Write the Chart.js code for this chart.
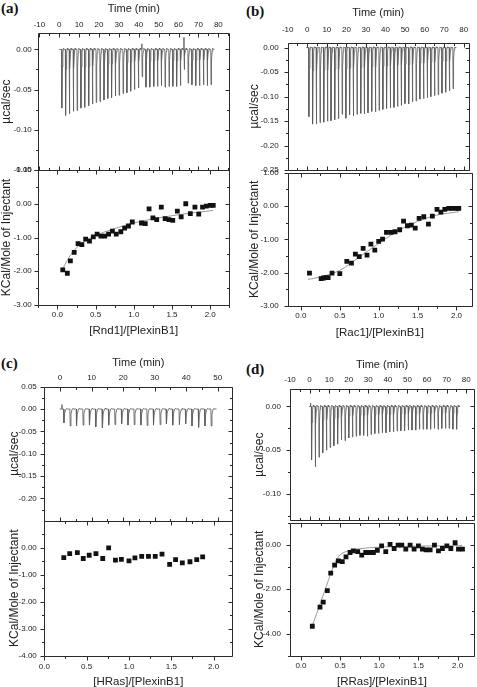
<!DOCTYPE html>
<html>
<head>
<meta charset="utf-8">
<script src="https://cdn.jsdelivr.net/npm/chart.js@4.4.1/dist/chart.umd.min.js"></script>
<style>
  html, body { margin: 0; padding: 0; background: #fff; }
  body { position: relative; width: 477px; height: 687px; overflow: hidden; }
  canvas { position: absolute; }
  .tag { position: absolute; font: bold 15px "Liberation Serif", "Times New Roman", serif; color: #111; line-height: 1; }
</style>
</head>
<body>
<div class="tag" style="left:1px;top:1px">(a)</div>
<div class="tag" style="left:246px;top:4px">(b)</div>
<div class="tag" style="left:1px;top:356px">(c)</div>
<div class="tag" style="left:246px;top:362px">(d)</div>
<script>
// ---- values ----
const timeTicks = [-10, 0, 10, 20, 30, 40, 50, 60, 70, 80];
const timeTicksC = [0, 10, 20, 30, 40, 50];
const ratioTicks = [0, 0.5, 1, 1.5, 2];

// (a) Rnd1
const aInjT = [1.2,3.1,5.0,7.0,8.9,10.8,12.7,14.7,16.6,18.5,20.4,22.4,24.3,26.2,28.1,30.0,32.0,33.9,35.8,37.7,
               39.7,41.6,43.5,45.4,47.4,49.3,51.2,53.1,55.1,57.0,58.9,60.8,62.8,64.7,66.6,68.5,70.4,72.4,74.3,76.2];
const aPeak = [-0.073,-0.082,-0.080,-0.077,-0.076,-0.073,-0.072,-0.070,-0.068,-0.066,-0.065,-0.063,-0.061,-0.060,-0.058,-0.057,-0.055,-0.054,-0.052,-0.050,
               -0.048,-0.034,-0.047,-0.047,-0.046,-0.046,-0.045,-0.047,-0.046,-0.046,-0.046,-0.045,-0.025,-0.042,-0.044,-0.045,-0.045,-0.044,-0.045,-0.044];
const aBlip = [[41.5, 0.007], [62.7, 0.015]];
const aRatio = [0.07,0.13,0.17,0.22,0.27,0.32,0.37,0.42,0.47,0.52,0.57,0.62,0.67,0.72,0.77,0.83,0.88,0.93,0.98,1.10,
                1.15,1.20,1.25,1.30,1.36,1.41,1.46,1.51,1.57,1.62,1.68,1.74,1.80,1.85,1.90,1.95,2.00,2.04];
const aHeat = [-1.96,-2.06,-1.69,-1.44,-1.18,-1.21,-1.05,-1.11,-0.98,-0.90,-0.96,-0.96,-0.90,-0.81,-0.90,-0.83,-0.72,-0.66,-0.54,-0.57,
               -0.59,-0.15,-0.42,-0.47,-0.10,-0.44,-0.47,-0.49,-0.22,-0.39,0.00,-0.29,-0.10,-0.31,-0.10,-0.07,-0.05,-0.05];
const aFitX = [0.07,0.10,0.15,0.20,0.25,0.30,0.40,0.50,0.60,0.80,1.00,1.20,1.40,1.60,1.80,2.04];
const aFitY = [-1.92,-1.80,-1.60,-1.43,-1.30,-1.20,-1.05,-0.94,-0.85,-0.70,-0.57,-0.47,-0.39,-0.32,-0.26,-0.20];

// (b) Rac1
const bInjT = [0.7,2.6,4.5,6.4,8.3,10.2,12.0,13.9,15.8,17.7,19.6,21.5,23.4,25.3,27.2,29.0,30.9,32.8,34.7,36.6,
               38.5,40.4,42.3,44.2,46.0,47.9,49.8,51.7,53.6,55.5,57.4,59.3,61.2,63.0,64.9,66.8,68.7,70.6,72.5,74.4];
const bPeak = [-0.141,-0.156,-0.156,-0.153,-0.152,-0.150,-0.149,-0.147,-0.145,-0.136,-0.144,-0.137,-0.139,-0.136,-0.134,-0.135,-0.133,-0.130,-0.131,-0.128,
               -0.126,-0.124,-0.123,-0.122,-0.120,-0.118,-0.114,-0.115,-0.111,-0.109,-0.105,-0.104,-0.102,-0.100,-0.098,-0.096,-0.093,-0.091,-0.088,-0.084];
const bBlip = [];
const bRatio = [0.11,0.26,0.29,0.32,0.35,0.40,0.50,0.59,0.65,0.70,0.75,0.80,0.85,0.90,0.95,1.00,1.05,1.10,1.16,1.21,
                1.27,1.32,1.37,1.42,1.47,1.52,1.58,1.64,1.69,1.75,1.80,1.85,1.90,1.95,2.00,2.03];
const bHeat = [-2.01,-2.18,-2.16,-2.15,-2.15,-2.01,-2.03,-1.66,-1.71,-1.44,-1.52,-1.27,-1.47,-1.14,-1.32,-1.06,-0.99,-0.79,-0.79,-0.77,
               -0.71,-0.45,-0.59,-0.57,-0.66,-0.37,-0.32,-0.54,-0.30,-0.10,-0.18,-0.10,-0.07,-0.07,-0.07,-0.07];
const bFitX = [0.09,0.25,0.50,0.75,1.00,1.25,1.50,1.75,2.03];
const bFitY = [-2.20,-2.13,-1.93,-1.53,-1.12,-0.74,-0.46,-0.27,-0.17];

// (c) HRas
const cInjT = [1.1,3.1,5.1,7.2,9.2,11.2,13.3,15.3,17.3,19.4,21.4,23.4,25.5,27.5,29.5,31.6,33.6,35.6,37.7,39.7,41.7,43.8,45.8,47.8];
const cPeak = [-0.031,-0.038,-0.038,-0.036,-0.036,-0.040,-0.042,-0.036,-0.035,-0.033,-0.036,-0.035,
               -0.036,-0.037,-0.036,-0.035,-0.033,-0.036,-0.035,-0.033,-0.038,-0.041,-0.038,-0.038];
const cBlip = [[0.6, 0.010]];
const cRatio = [0.23,0.30,0.39,0.46,0.53,0.61,0.69,0.76,0.84,0.91,1.00,1.07,1.15,1.23,1.31,1.39,1.48,1.55,1.63,1.72,1.80,1.87];
const cHeat = [-0.37,-0.22,-0.18,-0.40,-0.28,-0.22,-0.40,-0.01,-0.46,-0.43,-0.49,-0.38,-0.32,-0.32,-0.32,-0.24,-0.62,-0.44,-0.56,-0.52,-0.44,-0.34];

// (d) RRas
const dInjT = [0.9,2.8,4.7,6.6,8.5,10.4,12.3,14.2,16.1,18.0,19.9,21.8,23.7,25.6,27.5,29.4,31.3,33.2,35.1,37.0,
               38.9,40.8,42.7,44.6,46.5,48.4,50.3,52.2,54.1,56.0,57.9,59.8,61.7,63.6,65.5,67.4,69.3,71.2,73.1,75.0];
const dPeak = [-0.061,-0.069,-0.058,-0.053,-0.050,-0.047,-0.045,-0.043,-0.038,-0.039,-0.036,-0.035,-0.034,-0.033,-0.033,-0.034,-0.032,-0.031,-0.031,-0.030,
               -0.030,-0.029,-0.029,-0.028,-0.028,-0.028,-0.027,-0.027,-0.027,-0.026,-0.026,-0.026,-0.026,-0.025,-0.026,-0.025,-0.025,-0.025,-0.026,-0.026];
const dBlip = [[0.5, 0.004]];
const dRatio = [0.145,0.243,0.285,0.337,0.38,0.43,0.477,0.528,0.575,0.627,0.669,0.725,0.776,0.827,0.874,0.925,0.976,1.03,1.083,1.138,
                1.19,1.24,1.288,1.339,1.394,1.445,1.50,1.551,1.598,1.65,1.705,1.756,1.807,1.863,1.914,1.969,2.012,2.063];
const dHeat = [-3.67,-2.81,-2.58,-2.06,-1.27,-0.91,-0.72,-0.75,-0.54,-0.34,-0.27,-0.30,-0.46,-0.34,-0.34,-0.34,-0.24,-0.04,-0.30,0.03,
               -0.16,-0.01,-0.01,-0.19,-0.01,-0.19,-0.04,-0.19,-0.22,-0.22,-0.01,-0.27,-0.16,-0.04,-0.16,0.10,-0.19,-0.19];
const dFitX = [0.145,0.25,0.35,0.40,0.45,0.50,0.60,0.75,1.00,1.50,2.06];
const dFitY = [-3.65,-2.60,-1.60,-1.10,-0.70,-0.45,-0.27,-0.17,-0.10,-0.05,-0.03];

// ---- drawing ----
const FONT = "'Liberation Sans', Arial, Helvetica, sans-serif";
const INK = '#222';
const tickFont = { family: FONT, size: 8 };

// baseline with one needle per injection
function trace(times, peaks, blips) {
  const pts = [{ x: times[0] - 1.2, y: 0 }];
  times.forEach((t, i) => {
    const p = peaks[i];
    pts.push({ x: t, y: 0 }, { x: t + 0.12, y: p }, { x: t + 0.35, y: p * 0.3 },
             { x: t + 0.65, y: p * 0.06 }, { x: t + 0.95, y: 0.0015 }, { x: t + 1.25, y: 0 });
  });
  blips.forEach(([t, v]) => pts.push({ x: t - 0.05, y: 0 }, { x: t, y: v }, { x: t + 0.05, y: 0 }));
  pts.sort((a, b) => a.x - b.x);
  pts.push({ x: times[times.length - 1] + 1.8, y: 0 });
  return pts;
}
const pairs = (xs, ys) => xs.map((x, i) => ({ x: x, y: ys[i] }));

const framePlugin = {
  id: 'frame',
  afterDraw(chart, args, opt) {
    const { ctx, chartArea: a, scales } = chart;
    const marks = s => {
      const v = s.ticks.map(t => t.value);
      const out = v.map(x => [x, 4]);
      for (let i = 0; i < v.length - 1; i++) out.push([(v[i] + v[i + 1]) / 2, 2.5]);
      const d = (v[1] - v[0]) / 2;
      out.push([v[0] - d, 2.5], [v[v.length - 1] + d, 2.5]);
      const lo = Math.min(s.min, s.max), hi = Math.max(s.min, s.max);
      return out.filter(([x]) => x >= lo - 1e-9 && x <= hi + 1e-9);
    };
    const px = p => Math.round(p) + 0.5;
    const L = px(a.left), R = px(a.right), T = px(a.top), B = px(a.bottom);
    ctx.save();
    ctx.strokeStyle = '#2a2a2a';
    ctx.lineWidth = 1;
    ctx.beginPath();
    ctx.rect(L, T, R - L, B - T);
    const dir = opt.bottom === 'out' ? 1 : -1;
    marks(scales.x).forEach(([v, len]) => {
      const p = px(scales.x.getPixelForValue(v));
      ctx.moveTo(p, T); ctx.lineTo(p, T + len);
      ctx.moveTo(p, B); ctx.lineTo(p, B + dir * len);
    });
    marks(scales.y).forEach(([v, len]) => {
      const p = px(scales.y.getPixelForValue(v));
      ctx.moveTo(L, p); ctx.lineTo(L - len, p);
      ctx.moveTo(R, p); ctx.lineTo(R - len, p);
    });
    ctx.stroke();
    ctx.restore();
  }
};

function canvasAt(left, top, w, h) {
  const c = document.createElement('canvas');
  c.width = w; c.height = h;
  c.style.left = left + 'px'; c.style.top = top + 'px';
  c.style.width = w + 'px'; c.style.height = h + 'px';
  document.body.appendChild(c);
  return c;
}

function plot(c, o) {
  return new Chart(c, {
    type: 'line',
    data: { datasets: o.datasets },
    options: {
      responsive: false, animation: false, events: [],
      layout: { autoPadding: false, padding: o.pad },
      plugins: { legend: { display: false }, tooltip: { enabled: false }, frame: { bottom: o.bottomTicks } },
      scales: {
        x: {
          type: 'linear', position: o.xPos, min: o.xMin, max: o.xMax,
          grid: { display: false, drawTicks: false }, border: { display: false },
          afterBuildTicks: s => { s.ticks = o.xTicks.map(v => ({ value: v })); },
          afterFit: s => { s.height = o.xH; },
          ticks: { autoSkip: false, maxRotation: 0, padding: o.xPad, font: tickFont, color: INK, callback: o.xFmt },
          title: { display: true, text: o.xTitle, color: INK, font: { family: FONT, size: o.xTitleSize, lineHeight: 1 }, padding: o.xTitlePad }
        },
        y: {
          type: 'linear', min: o.yMin, max: o.yMax,
          grid: { display: false, drawTicks: false }, border: { display: false },
          afterBuildTicks: s => { s.ticks = o.yTicks.map(v => ({ value: v })); },
          afterFit: s => { s.width = o.yW; },
          ticks: { autoSkip: false, padding: o.yPad, font: tickFont, color: INK, callback: v => v.toFixed(2) },
          title: { display: true, text: o.yTitle, color: INK, font: { family: FONT, size: 12, lineHeight: 1 }, padding: { top: 0, bottom: 0 } }
        }
      }
    },
    plugins: [framePlugin]
  });
}

function panel(g, top, bot) {
  const padL = g.yTitleX - g.x0 - 6;
  const tH = Math.round(g.M + 12 - g.y0);
  plot(canvasAt(g.x0, g.y0, g.w, tH), {
    pad: { left: padL, right: g.x0 + g.w - g.R, top: 0, bottom: g.y0 + tH - g.M },
    xPos: 'top', xMin: top.xMin, xMax: top.xMax, xTicks: top.xTicks, xFmt: v => String(v),
    xH: g.T - g.y0, xPad: g.T - g.timeLabY - 4.8,
    xTitle: 'Time (min)', xTitleSize: 11, xTitlePad: { top: g.timeTitleY - g.y0 - 5.5, bottom: 0 },
    yMin: top.yMin, yMax: top.yMax, yTicks: top.yTicks, yW: g.L - g.x0 - padL, yPad: g.yPad,
    yTitle: 'µcal/sec', bottomTicks: 'in',
    datasets: [{ data: top.data, borderColor: '#5c5c5c', borderWidth: 0.85, pointRadius: 0, tension: 0, fill: false }]
  });
  const bTop = Math.floor(g.M - 12), end = g.y0 + g.h;
  const sets = [{ data: bot.points, showLine: false, pointStyle: 'rect', pointRadius: 3.4,
                  backgroundColor: '#111', borderColor: '#111', pointBorderWidth: 0 }];
  if (bot.fit) sets.push({ data: bot.fit, borderColor: '#9a9a9a', borderWidth: 1, pointRadius: 0,
                           cubicInterpolationMode: 'monotone', fill: false });
  plot(canvasAt(g.x0, bTop, g.w, end - bTop), {
    pad: { left: padL, right: g.x0 + g.w - g.R, top: g.M - bTop, bottom: 0 },
    xPos: 'bottom', xMin: bot.xMin, xMax: bot.xMax, xTicks: ratioTicks, xFmt: v => v.toFixed(1),
    xH: end - g.B, xPad: g.ratioLabY - g.B - 4.8,
    xTitle: bot.title, xTitleSize: 11.5, xTitlePad: { top: 0, bottom: end - g.ratioTitleY - 5.75 },
    yMin: bot.yMin, yMax: bot.yMax, yTicks: bot.yTicks, yW: g.L - g.x0 - padL, yPad: g.yPad,
    yTitle: 'KCal/Mole of Injectant', bottomTicks: 'out',
    datasets: sets
  });
}

panel({ x0: 0, y0: 0, w: 240, h: 345, L: 38.3, R: 229.3, T: 33.3, M: 170, B: 305, yTitleX: 6.7, yPad: 6.5,
        timeTitleY: 9.3, timeLabY: 25, ratioLabY: 315, ratioTitleY: 330.7 },
  { xMin: -10.5, xMax: 85.5, xTicks: timeTicks, yMin: -0.15, yMax: 0.02, yTicks: [0, -0.05, -0.10, -0.15],
    data: trace(aInjT, aPeak, aBlip) },
  { xMin: -0.25, xMax: 2.25, yMin: -3, yMax: 1, yTicks: [1, 0, -1, -2, -3], title: '[Rnd1]/[PlexinB1]',
    points: pairs(aRatio, aHeat), fit: pairs(aFitX, aFitY) });

panel({ x0: 240, y0: 0, w: 237, h: 345, L: 287.7, R: 472, T: 42.7, M: 171.7, B: 306, yTitleX: 255, yPad: 9,
        timeTitleY: 13.3, timeLabY: 29.3, ratioLabY: 315.7, ratioTitleY: 333.3 },
  { xMin: -10, xMax: 82.5, xTicks: timeTicks, yMin: -0.25, yMax: 0.01, yTicks: [0, -0.05, -0.10, -0.15, -0.20, -0.25],
    data: trace(bInjT, bPeak, bBlip) },
  { xMin: -0.17, xMax: 2.2, yMin: -3, yMax: 1, yTicks: [1, 0, -1, -2, -3], title: '[Rac1]/[PlexinB1]',
    points: pairs(bRatio, bHeat), fit: pairs(bFitX, bFitY) });

panel({ x0: 0, y0: 340, w: 240, h: 347, L: 44.3, R: 232.3, T: 386.7, M: 520.7, B: 655.7, yTitleX: 15, yPad: 7.5,
        timeTitleY: 362.7, timeLabY: 377.3, ratioLabY: 666.7, ratioTitleY: 681.7 },
  { xMin: -5, xMax: 54.6, xTicks: timeTicksC, yMin: -0.25, yMax: 0.05, yTicks: [0.05, 0, -0.05, -0.10, -0.15, -0.20],
    data: trace(cInjT, cPeak, cBlip) },
  { xMin: 0, xMax: 2.22, yMin: -4, yMax: 1, yTicks: [0, -1, -2, -3, -4], title: '[HRas]/[PlexinB1]',
    points: pairs(cRatio, cHeat), fit: null });

panel({ x0: 240, y0: 340, w: 237, h: 347, L: 290, R: 474, T: 389, M: 521.7, B: 655.7, yTitleX: 259.3, yPad: 9,
        timeTitleY: 365, timeLabY: 379.3, ratioLabY: 665.7, ratioTitleY: 681.7 },
  { xMin: -10, xMax: 84, xTicks: timeTicks, yMin: -0.13, yMax: 0.02, yTicks: [0, -0.05, -0.10],
    data: trace(dInjT, dPeak, dBlip) },
  { xMin: -0.14, xMax: 2.21, yMin: -5, yMax: 1, yTicks: [0, -2, -4], title: '[RRas]/[PlexinB1]',
    points: pairs(dRatio, dHeat), fit: pairs(dFitX, dFitY) });
</script>
</body>
</html>
